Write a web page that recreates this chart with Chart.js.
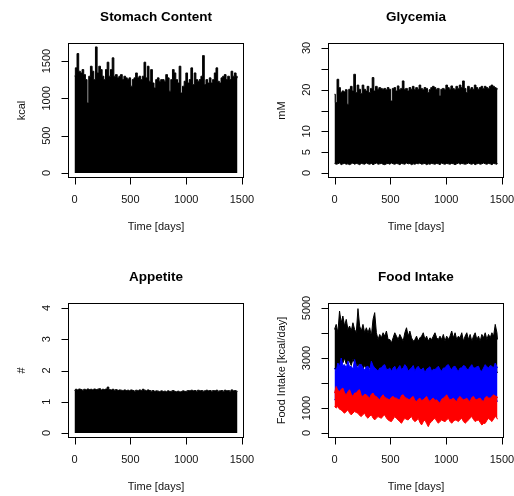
<!DOCTYPE html>
<html>
<head>
<meta charset="utf-8">
<script src="https://cdn.jsdelivr.net/npm/chart.js@4.4.0/dist/chart.umd.min.js"></script>
<style>
  html, body { margin: 0; padding: 0; background: #fff; }
  #wrap { position: relative; width: 514px; height: 496px; }
  #wrap canvas { position: absolute; left: 0; top: 0; }
</style>
</head>
<body>
<div id="wrap">
  <canvas id="stomach" width="514" height="496"></canvas>
  <canvas id="glycemia" width="514" height="496"></canvas>
  <canvas id="appetite" width="514" height="496"></canvas>
  <canvas id="intake" width="514" height="496"></canvas>
</div>
<script>
// sample days (every 15 days over 4 years)
const days = [
  0, 15, 30, 45, 60, 75, 90, 105, 120, 135,
  150, 165, 180, 195, 210, 225, 240, 255, 270, 285,
  300, 315, 330, 345, 360, 375, 390, 405, 420, 435,
  450, 465, 480, 495, 510, 525, 540, 555, 570, 585,
  600, 615, 630, 645, 660, 675, 690, 705, 720, 735,
  750, 765, 780, 795, 810, 825, 840, 855, 870, 885,
  900, 915, 930, 945, 960, 975, 990, 1005, 1020, 1035,
  1050, 1065, 1080, 1095, 1110, 1125, 1140, 1155, 1170, 1185,
  1200, 1215, 1230, 1245, 1260, 1275, 1290, 1305, 1320, 1335,
  1350, 1365, 1380, 1395, 1410, 1425, 1440, 1455, 1460
];

// stomach content peaks (kcal), trough is 0
const stomachPeak = [
  1300, 1409, 1601, 1364, 1341, 1386, 1319, 1252, 939, 1297,
  1431, 1364, 1252, 1690, 1341, 1431, 1386, 1297, 1252, 1386,
  1485, 1297, 1386, 1543, 1297, 1319, 1275, 1297, 1319, 1252,
  1297, 1275, 1252, 1275, 1163, 1252, 1275, 1341, 1275, 1297,
  1252, 1297, 1485, 1275, 1431, 1230, 1386, 1207, 1140, 1252,
  1275, 1230, 1252, 1252, 1230, 1319, 1275, 1096, 1252, 1386,
  1341, 1252, 1207, 1431, 1073, 1163, 1230, 1341, 1207, 1252,
  1409, 1185, 1341, 1252, 1230, 1252, 1297, 1574, 1185, 1252,
  1207, 1275, 1207, 1252, 1341, 1409, 1230, 1207, 1275, 1297,
  1319, 1252, 1297, 1252, 1364, 1297, 1341, 1297, 1275
];

// glycemia daily max / min (mM)
const glyHigh = [
  18.9, 16.9, 22.5, 20.5, 19.3, 19.7, 19.5, 20.0, 16.5, 20.1,
  20.8, 19.7, 23.7, 19.3, 21.1, 20.1, 19.1, 21.1, 20.1, 19.7,
  20.8, 19.3, 20.3, 22.9, 19.7, 20.8, 20.1, 20.5, 20.3, 20.1,
  20.3, 20.0, 20.5, 20.1, 17.3, 20.3, 20.5, 19.7, 20.9, 20.0,
  20.3, 22.1, 20.1, 20.3, 19.7, 20.5, 20.1, 20.8, 20.0, 20.5,
  20.1, 21.1, 20.3, 20.0, 20.5, 20.3, 19.3, 20.0, 20.5, 20.8,
  20.5, 20.1, 20.3, 18.5, 20.1, 20.3, 20.0, 21.1, 20.5, 20.1,
  20.9, 20.3, 20.0, 20.8, 20.3, 21.1, 20.5, 22.1, 20.3, 19.3,
  20.8, 20.1, 20.5, 20.1, 21.1, 20.5, 20.1, 20.5, 20.8, 20.3,
  20.8, 20.5, 20.3, 20.8, 21.1, 20.8, 20.5, 20.3, 20.1
];
const glyLow = [
  2.3, 2.1, 2.2, 2.4, 2.0, 2.2, 2.3, 2.1, 2.2, 2.0,
  2.2, 2.4, 2.1, 2.3, 2.2, 2.0, 2.3, 2.2, 2.1, 2.4,
  2.2, 2.1, 2.3, 2.0, 2.2, 2.4, 2.1, 2.2, 2.3, 2.1,
  2.0, 2.2, 2.3, 2.1, 2.4, 2.2, 2.1, 2.3, 2.2, 2.0,
  2.3, 2.2, 2.1, 2.4, 2.2, 2.3, 2.0, 2.2, 2.1, 2.3,
  2.2, 2.4, 2.1, 2.2, 2.3, 2.0, 2.2, 2.1, 2.3, 2.2,
  2.1, 2.3, 2.2, 2.0, 2.4, 2.2, 2.1, 2.3, 2.2, 2.1,
  2.3, 2.2, 2.0, 2.2, 2.4, 2.1, 2.3, 2.2, 2.1, 2.2,
  2.4, 2.2, 2.1, 2.3, 2.0, 2.2, 2.3, 2.1, 2.2, 2.4,
  2.2, 2.1, 2.3, 2.2, 2.0, 2.3, 2.2, 2.1, 2.3
];

// appetite peaks (#)
const appetitePeak = [
  1.36, 1.40, 1.38, 1.41, 1.39, 1.37, 1.40, 1.38, 1.41, 1.39,
  1.40, 1.38, 1.41, 1.39, 1.40, 1.42, 1.38, 1.40, 1.39, 1.41,
  1.47, 1.39, 1.38, 1.40, 1.37, 1.39, 1.36, 1.38, 1.37, 1.35,
  1.38, 1.36, 1.37, 1.35, 1.38, 1.36, 1.34, 1.37, 1.35, 1.38,
  1.36, 1.40, 1.37, 1.35, 1.38, 1.36, 1.34, 1.36, 1.33, 1.35,
  1.34, 1.32, 1.35, 1.33, 1.34, 1.32, 1.35, 1.33, 1.34, 1.36,
  1.33, 1.32, 1.34, 1.31, 1.33, 1.35, 1.33, 1.34, 1.36, 1.35,
  1.37, 1.35, 1.36, 1.34, 1.37, 1.35, 1.36, 1.34, 1.35, 1.37,
  1.35, 1.36, 1.34, 1.36, 1.35, 1.37, 1.34, 1.35, 1.36, 1.34,
  1.37, 1.35, 1.36, 1.34, 1.38, 1.35, 1.36, 1.34, 1.33
];

// food intake ranges (kcal/day): black, blue, red
const blackHigh = [
  4143, 4345, 4010, 4880, 4410, 4680, 4280, 4545, 4143, 4280,
  4077, 4410, 4143, 4010, 4975, 4280, 4077, 4345, 4010, 4210,
  4010, 4210, 3875, 4545, 4815, 4010, 3741, 3942, 3808, 4010,
  3875, 4077, 3741, 3741, 3607, 3808, 4010, 3875, 3741, 3942,
  3808, 3674, 4010, 4210, 3875, 4077, 3808, 3674, 3741, 3875,
  3674, 3808, 3875, 4010, 3741, 3875, 3674, 3808, 3741, 3875,
  4010, 3808, 3741, 3875, 3741, 3942, 3674, 3875, 3741, 3875,
  4077, 3808, 4010, 3741, 3875, 3808, 4010, 3674, 3875, 4010,
  3741, 3942, 3674, 3875, 4010, 3741, 3875, 3674, 3942, 3808,
  4010, 3741, 3942, 3808, 4010, 3875, 4345, 4010, 3741
];
const blackLow = [
  2600, 2500, 2700, 2650, 2900, 2800, 3000, 2750, 2900, 2850,
  2700, 2950, 2800, 2600, 2750, 2650, 2800, 2550, 2700, 2600,
  2500, 2650, 2550, 2450, 2600, 2500, 2400, 2550, 2450, 2350,
  2500, 2400, 2550, 2450, 2350, 2500, 2400, 2450, 2350, 2500,
  2400, 2300, 2450, 2350, 2500, 2400, 2300, 2450, 2350, 2400,
  2300, 2450, 2350, 2400, 2300, 2450, 2350, 2300, 2400, 2350,
  2450, 2300, 2400, 2350, 2450, 2300, 2400, 2350, 2300, 2450,
  2350, 2400, 2300, 2450, 2350, 2400, 2300, 2350, 2450, 2400,
  2300, 2400, 2350, 2450, 2300, 2400, 2350, 2300, 2450, 2350,
  2400, 2300, 2450, 2350, 2400, 2300, 2350, 2450, 2400
];
const blueHigh = [
  2600, 2470, 2800, 2650, 3000, 2700, 2735, 2600, 2870, 2650,
  2670, 2550, 2940, 2700, 2600, 2750, 2735, 2600, 2535, 2650,
  2670, 2500, 2870, 2700, 2600, 2550, 2470, 2600, 2600, 2700,
  2735, 2550, 2540, 2600, 2470, 2600, 2670, 2500, 2600, 2700,
  2540, 2600, 2735, 2650, 2470, 2550, 2600, 2700, 2470, 2600,
  2670, 2550, 2540, 2600, 2400, 2550, 2600, 2650, 2470, 2550,
  2540, 2600, 2670, 2550, 2470, 2600, 2600, 2700, 2735, 2600,
  2540, 2650, 2670, 2550, 2470, 2600, 2600, 2700, 2670, 2550,
  2540, 2650, 2735, 2600, 2600, 2650, 2670, 2500, 2470, 2600,
  2735, 2650, 2600, 2700, 2670, 2600, 2800, 2650, 2600
];
const blueLow = [
  1350, 1250, 1400, 1300, 1200, 1350, 1300, 1250, 1400, 1300,
  1250, 1350, 1300, 1200, 1300, 1250, 1350, 1300, 1200, 1250,
  1300, 1200, 1250, 1350, 1300, 1200, 1250, 1300, 1150, 1250,
  1300, 1200, 1250, 1150, 1300, 1250, 1200, 1300, 1250, 1150,
  1250, 1300, 1200, 1250, 1150, 1300, 1250, 1200, 1150, 1250,
  1200, 1300, 1150, 1250, 1200, 1300, 1150, 1200, 1250, 1200,
  1150, 1250, 1200, 1100, 1250, 1300, 1200, 1250, 1150, 1200,
  1250, 1200, 1150, 1250, 1300, 1200, 1250, 1150, 1200, 1250,
  1150, 1200, 1250, 1300, 1200, 1150, 1250, 1200, 1150, 1250,
  1200, 1300, 1250, 1200, 1300, 1250, 1200, 1300, 1250
];
const redHigh = [
  1596, 1863, 1700, 1663, 1750, 1796, 1600, 1529, 1650, 1730,
  1550, 1462, 1600, 1596, 1700, 1730, 1500, 1462, 1550, 1529,
  1450, 1395, 1550, 1596, 1480, 1462, 1380, 1327, 1450, 1529,
  1420, 1395, 1350, 1327, 1430, 1462, 1400, 1395, 1340, 1327,
  1500, 1529, 1420, 1395, 1350, 1327, 1420, 1462, 1300, 1260,
  1350, 1395, 1300, 1327, 1400, 1462, 1330, 1260, 1350, 1395,
  1300, 1327, 1250, 1193, 1350, 1395, 1450, 1529, 1400, 1327,
  1350, 1395, 1300, 1260, 1400, 1462, 1380, 1327, 1350, 1395,
  1300, 1260, 1420, 1462, 1350, 1327, 1380, 1395, 1300, 1260,
  1420, 1462, 1400, 1395, 1450, 1529, 1480, 1462, 1400
];
const redLow = [
  1059, 1000, 1059, 950, 925, 850, 791, 860, 925, 800,
  724, 800, 858, 820, 791, 700, 657, 740, 791, 650,
  590, 680, 724, 600, 523, 600, 657, 620, 590, 680,
  724, 600, 523, 480, 456, 560, 657, 580, 523, 450,
  389, 500, 590, 540, 523, 600, 657, 520, 456, 500,
  590, 420, 322, 450, 523, 380, 255, 400, 456, 540,
  590, 480, 389, 460, 523, 480, 456, 520, 590, 460,
  389, 470, 523, 500, 456, 540, 590, 460, 389, 450,
  523, 600, 657, 540, 456, 500, 523, 420, 322, 380,
  389, 500, 590, 520, 456, 560, 657, 600, 550
];

// axis ticks
const timeTicks = [0, 500, 1000, 1500];
const stomachTicks = [0, 500, 1000, 1500];
const glyTicks = [0, 5, 10, 15, 20, 25, 30];
const glyLabels = [0, 5, 10, 20, 30];
const appetiteTicks = [0, 1, 2, 3, 4];
const intakeTicks = [0, 1000, 2000, 3000, 4000, 5000];
const intakeLabels = [0, 1000, 3000, 5000];

const FONT = "'Liberation Sans', Arial, sans-serif";
const W = 514, H = 496;

function pts(ys) {
  return days.map((d, i) => ({ x: d, y: ys[i] }));
}

// base-graphics style frame: box, outward ticks, upright-rotated y labels, titles
const rFrame = {
  id: 'rFrame',
  afterDraw(chart, args, o) {
    const ctx = chart.ctx;
    const a = chart.chartArea;
    const sx = chart.scales.x, sy = chart.scales.y;
    const L = Math.round(a.left) + 0.5, R = Math.round(a.right) - 0.5;
    const T = Math.round(a.top) + 0.5, B = Math.round(a.bottom) - 0.5;
    ctx.save();
    ctx.strokeStyle = '#000';
    ctx.lineWidth = 1;
    ctx.strokeRect(L, T, R - L, B - T);

    ctx.beginPath();
    o.yTicks.forEach(v => {
      const y = Math.round(sy.getPixelForValue(v)) + 0.5;
      ctx.moveTo(L - 7, y);
      ctx.lineTo(L, y);
    });
    o.xTicks.forEach(v => {
      const x = Math.round(sx.getPixelForValue(v)) + 0.5;
      ctx.moveTo(x, B);
      ctx.lineTo(x, B + 7);
    });
    ctx.stroke();

    ctx.fillStyle = '#111';
    ctx.textAlign = 'center';
    ctx.textBaseline = 'middle';
    ctx.font = '11px ' + FONT;
    o.xTicks.forEach(v => {
      ctx.fillText(String(v), sx.getPixelForValue(v), a.bottom + 22);
    });
    o.yLabels.forEach(v => {
      ctx.save();
      ctx.translate(a.left - 21, sy.getPixelForValue(v));
      ctx.rotate(-Math.PI / 2);
      ctx.fillText(String(v), 0, 0);
      ctx.restore();
    });

    const cx = (a.left + a.right) / 2, cy = (a.top + a.bottom) / 2;
    ctx.fillText(o.xlab, cx, a.bottom + 49);
    ctx.save();
    ctx.translate(a.left - 46.5, cy);
    ctx.rotate(-Math.PI / 2);
    ctx.fillText(o.ylab, 0, 0);
    ctx.restore();

    ctx.fillStyle = '#000';
    ctx.font = 'bold 13.5px ' + FONT;
    ctx.fillText(o.title, cx, a.top - 26);
    ctx.restore();
  }
};

function band(data, color, fill) {
  return {
    data: data,
    borderColor: color,
    backgroundColor: color,
    borderWidth: 1,
    pointRadius: 0,
    tension: 0,
    fill: fill
  };
}

function makeChart(id, box, yRange, datasets, frame) {
  return new Chart(document.getElementById(id), {
    type: 'line',
    data: { datasets: datasets },
    plugins: [rFrame],
    options: {
      responsive: false,
      animation: false,
      events: [],
      layout: {
        padding: { left: box[0], top: box[1], right: W - box[2], bottom: H - box[3] }
      },
      scales: {
        x: { type: 'linear', display: false, min: -58.4, max: 1518.4 },
        y: { type: 'linear', display: false, min: yRange[0], max: yRange[1] }
      },
      plugins: {
        legend: { display: false },
        tooltip: { enabled: false },
        rFrame: frame
      }
    }
  });
}

const stomachSet = band(pts(stomachPeak), '#000', 'origin');
stomachSet.stepped = 'middle';
makeChart('stomach', [68, 43, 244, 178], [-67, 1742], [stomachSet], {
  title: 'Stomach Content', xlab: 'Time [days]', ylab: 'kcal',
  xTicks: timeTicks, yTicks: stomachTicks, yLabels: stomachTicks
});

const glyTop = band(pts(glyHigh), '#000', '-1');
glyTop.stepped = 'middle';
makeChart('glycemia', [328, 43, 504, 178], [-1.2, 31.2],
  [band(pts(glyLow), '#000', false), glyTop], {
  title: 'Glycemia', xlab: 'Time [days]', ylab: 'mM',
  xTicks: timeTicks, yTicks: glyTicks, yLabels: glyLabels
});

const appSet = band(pts(appetitePeak), '#000', 'origin');
appSet.stepped = 'middle';
makeChart('appetite', [68, 303, 244, 438], [-0.16, 4.16], [appSet], {
  title: 'Appetite', xlab: 'Time [days]', ylab: '#',
  xTicks: timeTicks, yTicks: appetiteTicks, yLabels: appetiteTicks
});

// red drawn last (on top), then blue, then black underneath
makeChart('intake', [328, 303, 504, 438], [-200, 5200], [
  band(pts(redLow), '#ff0000', false),
  band(pts(redHigh), '#ff0000', 0),
  band(pts(blueLow), '#0000ff', false),
  band(pts(blueHigh), '#0000ff', 2),
  band(pts(blackLow), '#000', false),
  band(pts(blackHigh), '#000', 4)
], {
  title: 'Food Intake', xlab: 'Time [days]', ylab: 'Food Intake [kcal/day]',
  xTicks: timeTicks, yTicks: intakeTicks, yLabels: intakeLabels
});
</script>
</body>
</html>
